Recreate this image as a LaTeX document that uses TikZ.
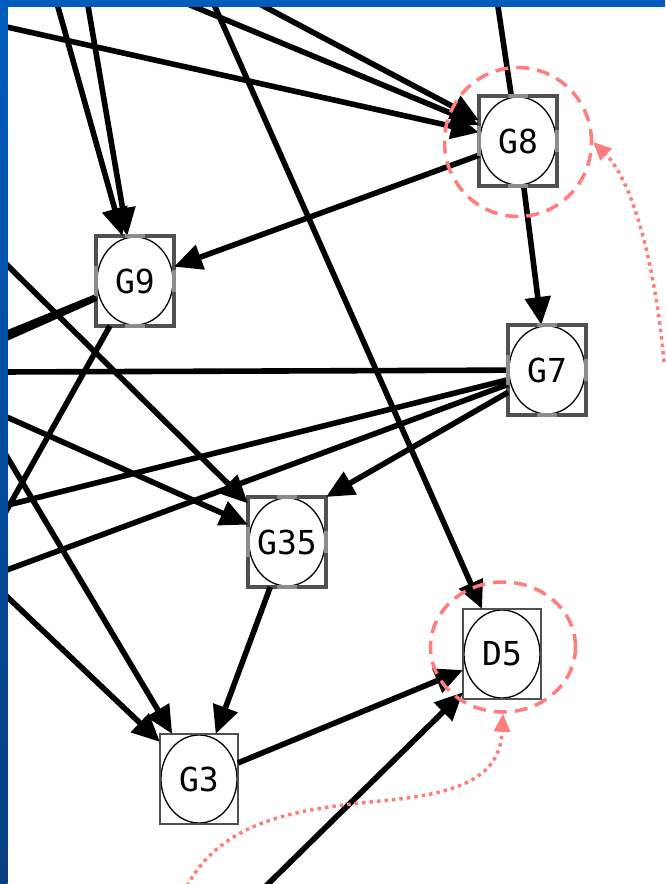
\documentclass[tikz,border=0pt]{standalone}
\usepackage{fontspec}
\newfontfamily\nodefont{DejaVu Sans Mono}
\usetikzlibrary{arrows.meta,shapes.geometric,calc}
\definecolor{pinkc}{RGB}{255,125,125}
\definecolor{darkb}{RGB}{80,80,80}
\definecolor{lightb}{RGB}{140,140,140}
\definecolor{frameblue}{RGB}{0,92,188}
\definecolor{framedark}{RGB}{6,62,128}
\begin{document}
\begin{tikzpicture}[x=1pt,y=-1pt,
  gnode/.style={rectangle, fill=white, inner sep=0pt, outer sep=0pt,
    minimum width=78pt, minimum height=90pt,
    font=\nodefont\fontsize{33}{33}\selectfont,
    path picture={\draw[black,line width=1.3pt] (path picture bounding box.center) ellipse [x radius=38pt, y radius=44pt];}},
  selnode/.style={gnode, draw=darkb, line width=3.5pt},
  plainnode/.style={gnode, draw=darkb, line width=2.5pt},
  midseg/.style={draw=lightb, line width=3.5pt},
  link/.style={line width=5.6pt, black},
  arr/.style={link, -{Triangle[length=28pt,width=25pt]}},
  halo/.style={draw=pinkc, line width=3.5pt, dash pattern=on 13pt off 8pt, ellipse, inner sep=0pt},
  hint/.style={draw=pinkc, line width=3.5pt, dash pattern=on 3.5pt off 4pt, -{Triangle[length=18pt,width=16pt]}}
]
\useasboundingbox (0,0) rectangle (665,884);
\fill[white] (0,0) rectangle (665,884);

% nodes
\node[selnode] (G8) at (518,141) {G8};
\node[selnode] (G9) at (135,281) {G9};
\node[selnode] (G7) at (547,370) {G7};
\node[selnode] (G35) at (287,542) {G35};
\node[plainnode] (D5) at (502,654) {D5};
\node[plainnode] (G3) at (199,779) {G3};

% free ends at the frame
\coordinate (s1) at (0,25.5);
\coordinate (s2) at (178,0);
\coordinate (s3) at (252,0);
\coordinate (s4) at (497,0);
\coordinate (s5) at (56,0);
\coordinate (s6) at (87,0);
\coordinate (s7) at (212,0);
\coordinate (s8) at (0,522);
\coordinate (s9) at (0,336);
\coordinate (s10) at (0,341);
\coordinate (s11) at (0,372);
\coordinate (s12) at (0,507);
\coordinate (s13) at (0,572.5);
\coordinate (s14) at (0,258);
\coordinate (s15) at (0,414);
\coordinate (s16) at (0,445);
\coordinate (s17) at (0,590);
\coordinate (s18) at (265,887);
\coordinate (r1) at (664,362);
\coordinate (r2) at (187,886);

% connectors
\draw[arr] (s1) -- (G8);
\draw[arr] (s2) -- (G8);
\draw[arr] (s3) -- (G8);
\draw[link] (G8) -- (s4);
\draw[arr] (s5) -- (G9);
\draw[arr] (s6) -- (G9);
\draw[arr] (s7) -- (D5);
\draw[arr] (G8) -- (G9);
\draw[arr] (G8) -- (G7);
\draw[link] (G9) -- (s8);
\draw[link] (G9) -- (s9);
\draw[link] (G9) -- (s10);
\draw[link] (G7) -- (s11);
\draw[link] (G7) -- (s12);
\draw[link] (G7) -- (s13);
\draw[arr] (G7) -- (G35.north east);
\draw[arr] (s14) -- (G35);
\draw[arr] (s15) -- (G35);
\draw[arr] (G35) -- (G3);
\draw[arr] (s16) -- (G3);
\draw[arr] (s17) -- (G3);
\draw[arr] (G3) -- (D5);
\draw[arr] (s18) -- (D5);

% lighter middle parts of the thick borders
\foreach \n in {G8,G9,G7,G35}{
  \draw[midseg] ($(\n.north west)!0.37!(\n.north east)$) -- ($(\n.north west)!0.63!(\n.north east)$);
  \draw[midseg] ($(\n.south west)!0.37!(\n.south east)$) -- ($(\n.south west)!0.63!(\n.south east)$);
  \draw[midseg] ($(\n.north west)!0.33!(\n.south west)$) -- ($(\n.north west)!0.67!(\n.south west)$);
  \draw[midseg] ($(\n.north east)!0.38!(\n.south east)$) -- ($(\n.north east)!0.62!(\n.south east)$);
}

% pink highlights
\node[halo, minimum width=147pt, minimum height=149pt] (h8) at (518,142) {};
\node[halo, minimum width=145pt, minimum height=130pt] (h5) at (503,647) {};
\draw[hint] (r1) .. controls (655,262) and (632,180) .. (h8.east);
\draw[hint] (r2) .. controls (225,815) and (310,808) .. (390,800)
  .. controls (470,792) and (500,772) .. (h5.south);

% frame
\fill[frameblue] (0,0) rectangle (665,7);
\shade[top color=frameblue, bottom color=framedark] (0,0) rectangle (7.5,884);
\end{tikzpicture}
\end{document}
